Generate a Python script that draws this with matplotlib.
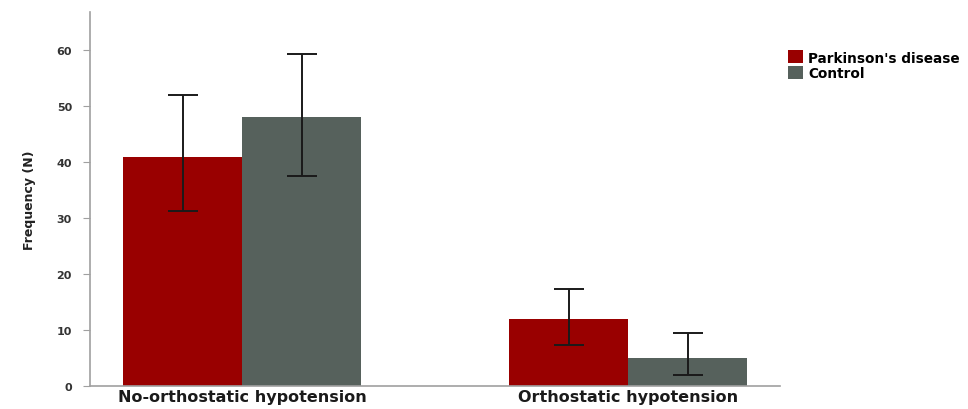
import numpy as np
import matplotlib
matplotlib.use("Agg")
import matplotlib.pyplot as plt
from matplotlib.patches import Patch

# ── data ────────────────────────────────────────────────────────────────────
categories = ["No-orthostatic hypotension", "Orthostatic hypotension"]
series     = ["Parkinson's disease", "Control"]
pd_vals    = [41, 12]
pd_lo      = [31.3, 7.3]
pd_hi      = [52.0, 17.3]
ctl_vals   = [48, 5]
ctl_lo     = [37.6, 2.0]
ctl_hi     = [59.3, 9.5]
yticks     = [0, 10, 20, 30, 40, 50, 60]

RED  = "#990000"
GREY = "#56615c"
AXC  = "#a0a0a0"

fig = plt.figure(figsize=(9.68, 4.10), dpi=100)
ax = fig.add_axes([0.093, 0.056, 0.713, 0.912])

x = np.arange(len(categories))
w = 0.308

for vals, lo, hi, col, off in [(pd_vals, pd_lo, pd_hi, RED, -w / 2),
                               (ctl_vals, ctl_lo, ctl_hi, GREY, w / 2)]:
    vals = np.array(vals, dtype=float)
    err = [vals - np.array(lo), np.array(hi) - vals]
    ax.bar(x + off, vals, width=w, color=col, edgecolor="none")
    ax.errorbar(x + off, vals, yerr=err, fmt="none", ecolor="#1a1a1a",
                elinewidth=1.4, capsize=11, capthick=1.4)

ax.set_xlim(-0.394, 1.394)
ax.set_ylim(0, 66.8)
ax.set_yticks(yticks)
ax.set_xticks(x)
ax.set_xticklabels(categories, fontsize=11.5, fontweight="bold", color="#1a1a1a")
ax.tick_params(axis="x", length=0, pad=2)
ax.tick_params(axis="y", length=5, color=AXC, labelsize=8, labelcolor="#333333", pad=8)
for lbl in ax.get_yticklabels():
    lbl.set_fontweight("bold")

for s in ["top", "right"]:
    ax.spines[s].set_visible(False)
for s in ["left", "bottom"]:
    ax.spines[s].set_color(AXC)
    ax.spines[s].set_linewidth(1.2)

ax.set_ylabel("Frequency (N)", fontsize=9, fontweight="bold", color="#222222", labelpad=15)

handles = [Patch(facecolor=RED, edgecolor="none"), Patch(facecolor=GREY, edgecolor="none")]
fig.legend(handles, series, loc="upper left", bbox_to_anchor=(0.808, 0.888),
           frameon=False, prop={"weight": "bold", "size": 9.8},
           handlelength=1.1, handleheight=1.1, handletextpad=0.4,
           labelspacing=0.1, borderaxespad=0)

fig.savefig("out.png", dpi=100)
